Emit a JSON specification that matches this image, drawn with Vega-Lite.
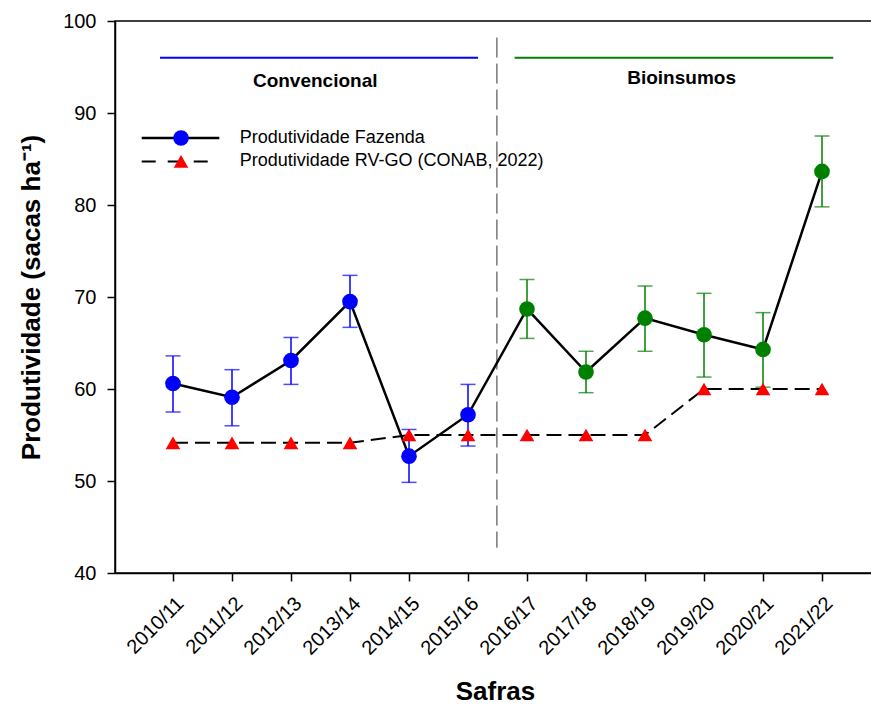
{
  "$schema": "https://vega.github.io/schema/vega-lite/v6.json",
  "width": 760,
  "height": 552,
  "autosize": {"type": "none"},
  "padding": {"left": 115, "top": 21, "right": 0, "bottom": 133},
  "background": "white",
  "config": {
    "font": "Liberation Sans",
    "view": {"stroke": "black", "strokeWidth": 1.5},
    "axis": {"grid": false, "domainColor": "black", "domainWidth": 1.5, "tickColor": "black", "tickWidth": 1.5, "labelColor": "black", "titleColor": "black", "labelFont": "Liberation Sans", "titleFont": "Liberation Sans"}
  },
  "datasets": {
    "farm": [
      {"safra": "2010/11", "idx": 0, "fase": "Convencional", "prod": 60.6, "lo": 57.5, "hi": 63.6},
      {"safra": "2011/12", "idx": 1, "fase": "Convencional", "prod": 59.1, "lo": 56.0, "hi": 62.1},
      {"safra": "2012/13", "idx": 2, "fase": "Convencional", "prod": 63.1, "lo": 60.5, "hi": 65.6},
      {"safra": "2013/14", "idx": 3, "fase": "Convencional", "prod": 69.5, "lo": 66.7, "hi": 72.35},
      {"safra": "2014/15", "idx": 4, "fase": "Convencional", "prod": 52.7, "lo": 49.85, "hi": 55.6},
      {"safra": "2015/16", "idx": 5, "fase": "Convencional", "prod": 57.2, "lo": 53.8, "hi": 60.5},
      {"safra": "2016/17", "idx": 6, "fase": "Bioinsumos", "prod": 68.7, "lo": 65.5, "hi": 71.9},
      {"safra": "2017/18", "idx": 7, "fase": "Bioinsumos", "prod": 61.85, "lo": 59.6, "hi": 64.1},
      {"safra": "2018/19", "idx": 8, "fase": "Bioinsumos", "prod": 67.7, "lo": 64.1, "hi": 71.2},
      {"safra": "2019/20", "idx": 9, "fase": "Bioinsumos", "prod": 65.9, "lo": 61.3, "hi": 70.4},
      {"safra": "2020/21", "idx": 10, "fase": "Bioinsumos", "prod": 64.3, "lo": 60.2, "hi": 68.3},
      {"safra": "2021/22", "idx": 11, "fase": "Bioinsumos", "prod": 83.65, "lo": 79.8, "hi": 87.5}
    ],
    "conab": [
      {"safra": "2010/11", "idx": 0, "prod": 54.15},
      {"safra": "2011/12", "idx": 1, "prod": 54.15},
      {"safra": "2012/13", "idx": 2, "prod": 54.15},
      {"safra": "2013/14", "idx": 3, "prod": 54.15},
      {"safra": "2014/15", "idx": 4, "prod": 55.0},
      {"safra": "2015/16", "idx": 5, "prod": 55.0},
      {"safra": "2016/17", "idx": 6, "prod": 55.0},
      {"safra": "2017/18", "idx": 7, "prod": 55.0},
      {"safra": "2018/19", "idx": 8, "prod": 55.0},
      {"safra": "2019/20", "idx": 9, "prod": 60.0},
      {"safra": "2020/21", "idx": 10, "prod": 60.0},
      {"safra": "2021/22", "idx": 11, "prod": 60.0}
    ],
    "fases": [
      {"fase": "Convencional", "x1": -0.22, "x2": 5.17, "y": 96.0, "tx": 2.41, "ty": 93.45},
      {"fase": "Bioinsumos", "x1": 5.79, "x2": 11.19, "y": 96.0, "tx": 8.62, "ty": 93.8}
    ],
    "divisor": [{"x": 5.49, "y1": 98.2, "y2": 42.75}],
    "legenda": [
      {"serie": "Produtividade Fazenda", "x1": -0.53, "x2": 0.785, "xm": 0.136, "xt": 1.13, "y": 87.28},
      {"serie": "Produtividade RV-GO (CONAB, 2022)", "x1": -0.53, "x2": 0.66, "xm": 0.136, "xt": 1.13, "y": 84.74}
    ]
  },
  "encoding": {
    "x": {
      "field": "idx", "type": "quantitative",
      "scale": {"domain": [-0.983, 11.898], "nice": false, "zero": false},
      "axis": {
        "values": [0,1,2,3,4,5,6,7,8,9,10,11],
        "labelExpr": "['2010/11','2011/12','2012/13','2013/14','2014/15','2015/16','2016/17','2017/18','2018/19','2019/20','2020/21','2021/22'][datum.value]",
        "labelOverlap": false, "labelBound": false,
        "labelAngle": -45, "labelFontSize": 20, "labelPadding": 12, "tickSize": 8,
        "title": "Safras", "titleFontSize": 26, "titleFontWeight": "bold", "titlePadding": 20
      }
    }
  },
  "layer": [
    {
      "data": {"name": "divisor"},
      "mark": {"type": "rule", "color": "#333333", "strokeWidth": 1, "strokeDash": [20, 6]},
      "encoding": {
        "x": {"field": "x", "type": "quantitative"},
        "y": {"field": "y1", "type": "quantitative", "scale": {"domain": [40, 100], "nice": false, "zero": false},
              "axis": {"values": [40,50,60,70,80,90,100], "labelFontSize": 20, "tickSize": 8, "labelPadding": 11,
                       "title": "Produtividade (sacas ha⁻¹)", "titleFontSize": 26, "titleFontWeight": "bold", "titlePadding": 18}},
        "y2": {"field": "y2"}
      }
    },
    {
      "data": {"name": "fases"},
      "mark": {"type": "rule", "strokeWidth": 2},
      "encoding": {
        "x": {"field": "x1", "type": "quantitative"},
        "x2": {"field": "x2"},
        "y": {"field": "y", "type": "quantitative"},
        "color": {"field": "fase", "type": "nominal", "scale": {"domain": ["Convencional", "Bioinsumos"], "range": ["#0000ff", "#008000"]}, "legend": null}
      }
    },
    {
      "data": {"name": "fases"},
      "mark": {"type": "text", "fontSize": 19, "fontWeight": "bold", "color": "black", "align": "center", "baseline": "middle"},
      "encoding": {
        "x": {"field": "tx", "type": "quantitative"},
        "y": {"field": "ty", "type": "quantitative"},
        "text": {"field": "fase"}
      }
    },
    {
      "data": {"name": "conab"},
      "mark": {"type": "line", "color": "black", "strokeWidth": 2, "strokeDash": [15, 7]},
      "encoding": {
        "x": {"field": "idx", "type": "quantitative"},
        "y": {"field": "prod", "type": "quantitative"}
      }
    },
    {
      "data": {"name": "farm"},
      "mark": {"type": "line", "color": "black", "strokeWidth": 2.5},
      "encoding": {
        "x": {"field": "idx", "type": "quantitative"},
        "y": {"field": "prod", "type": "quantitative"}
      }
    },
    {
      "data": {"name": "farm"},
      "mark": {"type": "rule", "strokeWidth": 1.5},
      "encoding": {
        "x": {"field": "idx", "type": "quantitative"},
        "y": {"field": "lo", "type": "quantitative"},
        "y2": {"field": "hi"},
        "color": {"field": "fase", "type": "nominal"}
      }
    },
    {
      "data": {"name": "farm"},
      "mark": {"type": "tick", "orient": "horizontal", "size": 15, "thickness": 1.5},
      "encoding": {
        "x": {"field": "idx", "type": "quantitative"},
        "y": {"field": "lo", "type": "quantitative"},
        "color": {"field": "fase", "type": "nominal"}
      }
    },
    {
      "data": {"name": "farm"},
      "mark": {"type": "tick", "orient": "horizontal", "size": 15, "thickness": 1.5},
      "encoding": {
        "x": {"field": "idx", "type": "quantitative"},
        "y": {"field": "hi", "type": "quantitative"},
        "color": {"field": "fase", "type": "nominal"}
      }
    },
    {
      "data": {"name": "farm"},
      "mark": {"type": "point", "shape": "circle", "filled": true, "opacity": 1, "size": 245},
      "encoding": {
        "x": {"field": "idx", "type": "quantitative"},
        "y": {"field": "prod", "type": "quantitative"},
        "color": {"field": "fase", "type": "nominal"}
      }
    },
    {
      "data": {"name": "conab"},
      "mark": {"type": "point", "shape": "triangle-up", "filled": true, "opacity": 1, "size": 215, "color": "#ff0000"},
      "encoding": {
        "x": {"field": "idx", "type": "quantitative"},
        "y": {"field": "prod", "type": "quantitative"}
      }
    },
    {
      "data": {"name": "legenda"},
      "transform": [{"filter": "datum.serie == 'Produtividade Fazenda'"}],
      "mark": {"type": "rule", "color": "black", "strokeWidth": 2.5},
      "encoding": {
        "x": {"field": "x1", "type": "quantitative"},
        "x2": {"field": "x2"},
        "y": {"field": "y", "type": "quantitative"}
      }
    },
    {
      "data": {"name": "legenda"},
      "transform": [{"filter": "datum.serie != 'Produtividade Fazenda'"}],
      "mark": {"type": "rule", "color": "black", "strokeWidth": 2, "strokeDash": [14, 12]},
      "encoding": {
        "x": {"field": "x1", "type": "quantitative"},
        "x2": {"field": "x2"},
        "y": {"field": "y", "type": "quantitative"}
      }
    },
    {
      "data": {"name": "legenda"},
      "transform": [{"filter": "datum.serie == 'Produtividade Fazenda'"}],
      "mark": {"type": "point", "shape": "circle", "filled": true, "opacity": 1, "size": 245, "color": "#0000ff"},
      "encoding": {
        "x": {"field": "xm", "type": "quantitative"},
        "y": {"field": "y", "type": "quantitative"}
      }
    },
    {
      "data": {"name": "legenda"},
      "transform": [{"filter": "datum.serie != 'Produtividade Fazenda'"}],
      "mark": {"type": "point", "shape": "triangle-up", "filled": true, "opacity": 1, "size": 215, "color": "#ff0000"},
      "encoding": {
        "x": {"field": "xm", "type": "quantitative"},
        "y": {"field": "y", "type": "quantitative"}
      }
    },
    {
      "data": {"name": "legenda"},
      "mark": {"type": "text", "fontSize": 18, "color": "black", "align": "left", "baseline": "middle"},
      "encoding": {
        "x": {"field": "xt", "type": "quantitative"},
        "y": {"field": "y", "type": "quantitative"},
        "text": {"field": "serie"}
      }
    }
  ]
}
